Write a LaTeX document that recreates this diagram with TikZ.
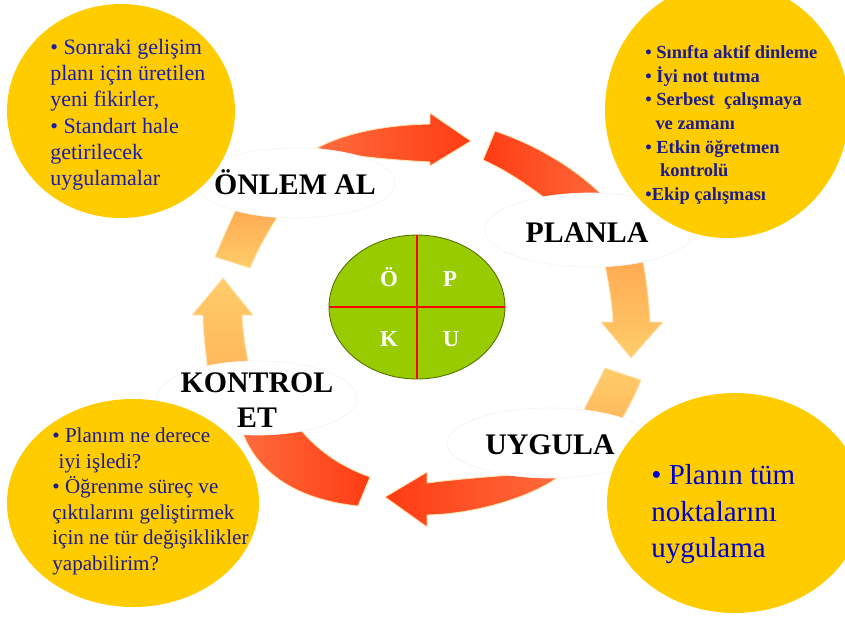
\documentclass[tikz,border=0pt]{standalone}
\usepackage{fontspec}
\setmainfont{Liberation Serif}
\usetikzlibrary{shapes.geometric}

\definecolor{noteyellow}{RGB}{255,204,0}
\definecolor{leafgreen}{RGB}{153,204,0}
\definecolor{crossred}{RGB}{255,0,0}
\definecolor{redlight}{RGB}{255,108,60}
\definecolor{reddark}{RGB}{255,60,20}
\definecolor{orangedark}{RGB}{255,168,80}
\definecolor{orangelight}{RGB}{255,204,106}
\definecolor{glow}{RGB}{255,228,176}
\definecolor{inkblue}{RGB}{28,28,172}
\definecolor{navyblue}{RGB}{28,28,140}
\definecolor{brightblue}{RGB}{0,0,205}

\tikzset{
    % yellow note bubbles
    notebubble/.style={fill=noteyellow},
    % text inside the bubbles
    notetext/.style={
           anchor=north west,
           align=left,
           inner sep=0pt,},
    % pieces of the arrow ring
    ringpiece/.style={draw=glow, line width=0.5pt},
    % white ellipses behind the step names
    labelback/.style={
           ellipse,
           fill=white,
           draw=black!4,
           line width=0.4pt,
           inner sep=0pt,},
    % step names
    steplabel/.style={
           font=\fontsize{17}{20}\selectfont\bfseries,
           align=center,
           inner sep=0pt,},
    % letters on the green disc
    pdcaletter/.style={
           font=\fontsize{13}{15}\selectfont\bfseries,
           text=white,
           inner sep=0pt,}
}

\begin{document}
\begin{tikzpicture}[x=0.02cm, y=-0.02cm]

\useasboundingbox (0,0) rectangle (845,616);

%%%%%%%%%%%%%%%%%%%%%%%%%%%%%%%%%

% top arrow
\path [ringpiece, left color=redlight, right color=reddark]
      (317,148) .. controls (345,133) and (385,125) .. (430,124)
      -- (430,113) -- (471,141) -- (430,166) -- (430,162)
      .. controls (395,160) and (350,157) .. (317,148) -- cycle;
\path [ringpiece, left color=reddark, right color=redlight]
      (495,131) .. controls (530,143) and (575,165) .. (612,205)
      -- (560,210) .. controls (535,190) and (510,172) .. (483,160) -- cycle;

% right arrow
\path [ringpiece, top color=orangedark, bottom color=orangelight]
      (603,255) .. controls (608,280) and (612,300) .. (613,322)
      -- (601,322) -- (631,358) -- (663,322) -- (650,322)
      .. controls (649,300) and (646,275) .. (641,252) -- cycle;
\path [ringpiece, top color=orangelight, bottom color=orangedark!60!orangelight]
      (605,368) .. controls (597,385) and (588,400) .. (577,425)
      -- (615,430) .. controls (628,410) and (635,395) .. (641,380) -- cycle;

% bottom arrow
\path [ringpiece, left color=reddark, right color=redlight]
      (385,497) -- (427,472) -- (427,483)
      .. controls (465,478) and (520,474) .. (565,472)
      .. controls (535,497) and (475,514) .. (427,515)
      -- (427,527) -- cycle;
\path [ringpiece, left color=redlight, right color=reddark]
      (240,425) .. controls (255,475) and (300,500) .. (358,506)
      -- (370,477) .. controls (340,466) and (315,450) .. (293,420) -- cycle;

% left arrow
\path [ringpiece, top color=orangelight, bottom color=orangedark!60!orangelight]
      (223,278) -- (253,315) -- (242,315)
      .. controls (243,335) and (246,350) .. (250,372)
      -- (208,375) .. controls (206,350) and (203,335) .. (203,315)
      -- (192,315) -- cycle;
\path [ringpiece, top color=orangedark, bottom color=orangelight]
      (215,257) -- (250,268) .. controls (260,245) and (270,228) .. (282,210)
      -- (238,205) .. controls (230,222) and (222,240) .. (215,257) -- cycle;

% ellipses behind the step names
\node [labelback, minimum width=3.96cm, minimum height=1.40cm] (onlemback)   at (296,183) {};
\node [labelback, minimum width=4.20cm, minimum height=1.48cm] (planlaback)  at (590,230) {};
\node [labelback, minimum width=4.12cm, minimum height=1.40cm] (uygulaback)  at (550,443) {};
\node [labelback, minimum width=4.00cm, minimum height=1.48cm] (kontrolback) at (257,398) {};

% yellow bubbles
\fill [notebubble] (121,111) ellipse [x radius=114, y radius=107];
\fill [notebubble] (727,110) ellipse [x radius=122, y radius=128];
\fill [notebubble] (133,503) ellipse [x radius=126, y radius=104];
\fill [notebubble] (735,503) ellipse [x radius=128, y radius=110];

% step names
\node [steplabel] (onlem)   at (295,182) {ÖNLEM AL};
\node [steplabel] (planla)  at (587,233) {PLANLA};
\node [steplabel] (uygula)  at (550,445) {UYGULA};
\node [steplabel] (kontrol) at (257,400) {KONTROL\\ET};

% bubble texts
\node [notetext, text=inkblue, font=\fontsize{12.5}{14.9}\selectfont] (noteact) at (50,39)
      {• Sonraki gelişim\\planı için üretilen\\yeni fikirler,\\• Standart hale\\getirilecek\\uygulamalar};
\node [notetext, text=navyblue, font=\fontsize{10.5}{13.5}\selectfont\bfseries] (noteplan) at (645,45)
      {• Sınıfta aktif dinleme\\• İyi not tutma\\• Serbest\ \ çalışmaya\\\hspace*{0.55em}ve zamanı\\• Etkin öğretmen\\\hspace*{0.8em}kontrolü\\•Ekip çalışması};
\node [notetext, text=navyblue, font=\fontsize{12}{14.5}\selectfont] (notecheck) at (52,428)
      {• Planım ne derece\\\hspace*{0.3em}iyi işledi?\\• Öğrenme süreç ve\\çıktılarını geliştirmek\\için ne tür değişiklikler\\yapabilirim?};
\node [notetext, text=brightblue, font=\fontsize{16.5}{20.8}\selectfont] (notedo) at (651,464)
      {• Planın tüm\\noktalarını\\uygulama};

% green disc with the four letters
\node [ellipse, draw=black!45!leafgreen, fill=leafgreen, line width=0.5pt,
       minimum width=3.52cm, minimum height=2.88cm, inner sep=0pt] (pdca) at (417,307) {};
\draw [crossred, line width=1.6pt] (pdca.north) -- (pdca.south);
\draw [crossred, line width=1.6pt] (pdca.west) -- (pdca.east);

\node [pdcaletter] (lettA) at (389,277) {Ö};
\node [pdcaletter] (lettP) at (450,279) {P};
\node [pdcaletter] (lettC) at (389,339) {K};
\node [pdcaletter] (lettD) at (451,339) {U};

\end{tikzpicture}
\end{document}
